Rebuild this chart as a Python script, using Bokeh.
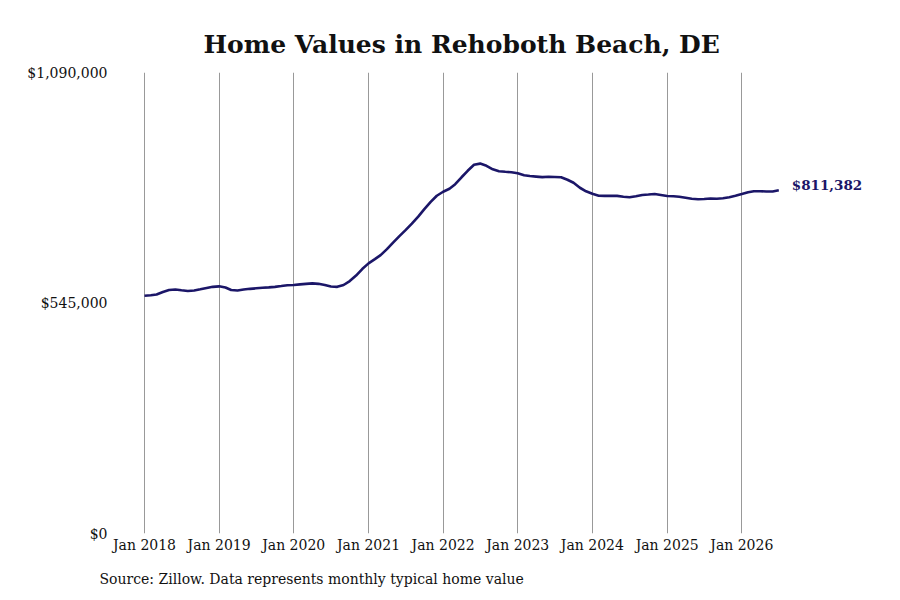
from datetime import datetime
from bokeh.plotting import figure
from bokeh.models import (Range1d, FixedTicker, NumeralTickFormatter, DatetimeTickFormatter,
                          Label, Title, ColumnDataSource)
from bokeh.embed import file_html
from bokeh.resources import INLINE

title_text = "Home Values in Rehoboth Beach, DE"
source_text = "Source: Zillow. Data represents monthly typical home value"
start_year, start_month = 2018, 1
values = [
    562200, 563200, 565100, 571000, 575700, 576800, 575000, 573300, 574500, 577300, 580400, 583200,
    584400, 581600, 575700, 574500, 576800, 578500, 579700, 580900, 582000, 583200, 585100, 587000,
    587500, 589100, 590300, 591500, 590300, 587500, 583900, 583200, 587500, 596900, 609900, 625200,
    638700, 648800, 658200, 672400, 687700, 703100, 717200, 732600, 749100, 766800, 784000, 798600,
    808100, 815100, 825800, 842300, 857600, 871800, 874600, 869400, 861100, 856400, 855200, 854100,
    851700, 847000, 845100, 843900, 842700, 843400, 843000, 842300, 836400, 829300, 817500, 809200,
    803300, 798600, 798200, 798600, 798200, 796300, 795100, 797400, 800300, 801400, 802600, 800300,
    797900, 797400, 796300, 793900, 791500, 790400, 790800, 792000, 791500, 792700, 795100, 798600,
    802600, 806900, 809200, 809200, 808800, 808500, 811382,
]
tick_years = list(range(2018, 2027))
y_ticks = [0, 545000, 1090000]
y_max = 1090000

dates = []
for i in range(len(values)):
    m = start_month - 1 + i
    dates.append(datetime(start_year + m // 12, m % 12 + 1, 1))

src = ColumnDataSource(dict(date=dates, value=values))

W, H = 900, 600
frame_left, frame_right = 115, 890
frame_top, frame_bottom = 72, 534
px_a, px_b = 144, 741.3
ta = datetime(2018, 1, 1).timestamp() * 1000
tb = datetime(2026, 1, 1).timestamp() * 1000
ms_per_px = (tb - ta) / (px_b - px_a)
x_start = ta - (px_a - frame_left) * ms_per_px
x_end = ta + (frame_right - px_a) * ms_per_px

FONT = "DejaVu Serif"

p = figure(width=W, height=H, output_backend="svg", toolbar_location=None,
           x_axis_type="datetime", x_range=Range1d(x_start, x_end),
           y_range=Range1d(0, y_max),
           min_border_left=frame_left, min_border_right=W - frame_right,
           min_border_top=frame_top, min_border_bottom=H - frame_bottom)
p.outline_line_color = None
p.background_fill_color = "white"

p.title = Title(text=title_text, align="left", text_font=FONT, text_font_size="25px",
                text_font_style="bold", text_color="#111111", standoff=28,
                offset=203 - frame_left)
p.add_layout(Title(text=source_text, align="left", text_font=FONT, text_font_size="14px",
                   text_font_style="normal", text_color="#111111", offset=-16, standoff=27), "below")

p.line("date", "value", source=src, line_color="#1b1668", line_width=2.6)

last_label = Label(x=dates[-1], y=values[-1], text="${:,}".format(values[-1]),
                   x_offset=13, y_offset=5, text_baseline="middle", text_align="left",
                   text_font=FONT, text_font_size="13.5px", text_font_style="bold",
                   text_color="#1b1668")
p.add_layout(last_label)

xt = [datetime(y, 1, 1).timestamp() * 1000 for y in tick_years]
p.xaxis.ticker = FixedTicker(ticks=xt)
p.xaxis.formatter = DatetimeTickFormatter(years="%b %Y", months="%b %Y", days="%b %Y")
p.yaxis.ticker = FixedTicker(ticks=y_ticks)
p.yaxis.formatter = NumeralTickFormatter(format="$0,0")

for ax in (p.xaxis[0], p.yaxis[0]):
    ax.axis_line_color = None
    ax.major_tick_line_color = None
    ax.minor_tick_line_color = None
    ax.major_tick_out = 0
    ax.major_tick_in = 0
    ax.minor_tick_out = 0
    ax.major_label_text_font = FONT
    ax.major_label_text_font_size = "14px"
    ax.major_label_text_color = "#111111"
p.xaxis.major_label_standoff = 3
p.yaxis.major_label_standoff = 8

p.xgrid.grid_line_color = "#999999"
p.xgrid.grid_line_width = 1
p.ygrid.grid_line_color = None

open("out.html", "w").write(file_html(p, INLINE))
